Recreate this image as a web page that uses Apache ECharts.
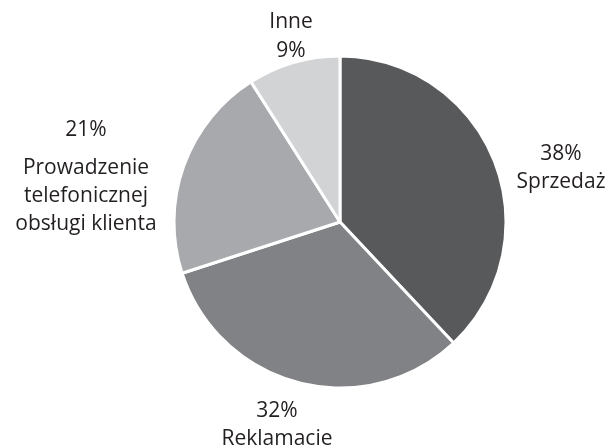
<!DOCTYPE html>
<html>
<head>
<meta charset="utf-8">
<script src="https://cdn.jsdelivr.net/npm/echarts@6/dist/echarts.min.js"></script>
<style>
	html, body { margin: 0; padding: 0; background: #fff; }
	#chart { width: 608px; height: 445px; }
</style>
</head>
<body>
<div id="chart"></div>
<script type="text/javascript">
	// dane wykresu
	var categories = ['Sprzedaż', 'Reklamacje', 'Prowadzenie\ntelefonicznej\nobsługi klienta', 'Inne'];
	var values = [38, 32, 21, 9];
	var colors = ['#58595b', '#808285', '#a7a9ac', '#d1d3d4'];
	// czy procent nad czy pod nazwą
	var pctFirst = [true, true, true, false];
	// środki etykiet (px)
	var labelPos = [[561, 168], [277, 425], [86, 172], [291, 37]];

	var myChart = echarts.init(document.getElementById('chart'));

	var seriesData = categories.map(function (name, i) {
		var nameLines = name.split('\n').map(function (s) { return '{n|' + s + '}'; }).join('\n');
		var pct = '{' + (i == 2 ? 'p2' : 'p') + '|{d}%}';
		return {
			name: name,
			value: values[i],
			itemStyle: { color: colors[i] },
			label: {
				formatter: pctFirst[i] ? pct + '\n' + nameLines : nameLines + '\n' + pct
			}
		};
	});

	var option = {
		animation: false,
		series: [
			{
				type: 'pie',
				center: [340, 222],
				radius: 166,
				startAngle: 90,
				clockwise: true,
				percentPrecision: 0,
				itemStyle: {
					borderColor: '#ffffff',
					borderWidth: 3
				},
				label: {
					show: true,
					position: 'inside',
					rotate: 0,
					overflow: 'none',
					color: '#231f20',
					fontFamily: 'Open Sans',
					fontSize: 21,
					rich: {
						p: { fontFamily: 'Open Sans', fontSize: 21, color: '#231f20', lineHeight: 29, align: 'center' },
						p2: { fontFamily: 'Open Sans', fontSize: 21, color: '#231f20', lineHeight: 48, align: 'center' },
						n: { fontFamily: 'Open Sans', fontSize: 21, color: '#231f20', lineHeight: 28, align: 'center' }
					}
				},
				labelLine: { show: false },
				labelLayout: function (params) {
					var p = labelPos[params.dataIndex];
					return { x: p[0], y: p[1], align: 'center', verticalAlign: 'middle' };
				},
				emphasis: { disabled: true },
				data: seriesData
			}
		]
	};

	myChart.setOption(option);
</script>
</body>
</html>
